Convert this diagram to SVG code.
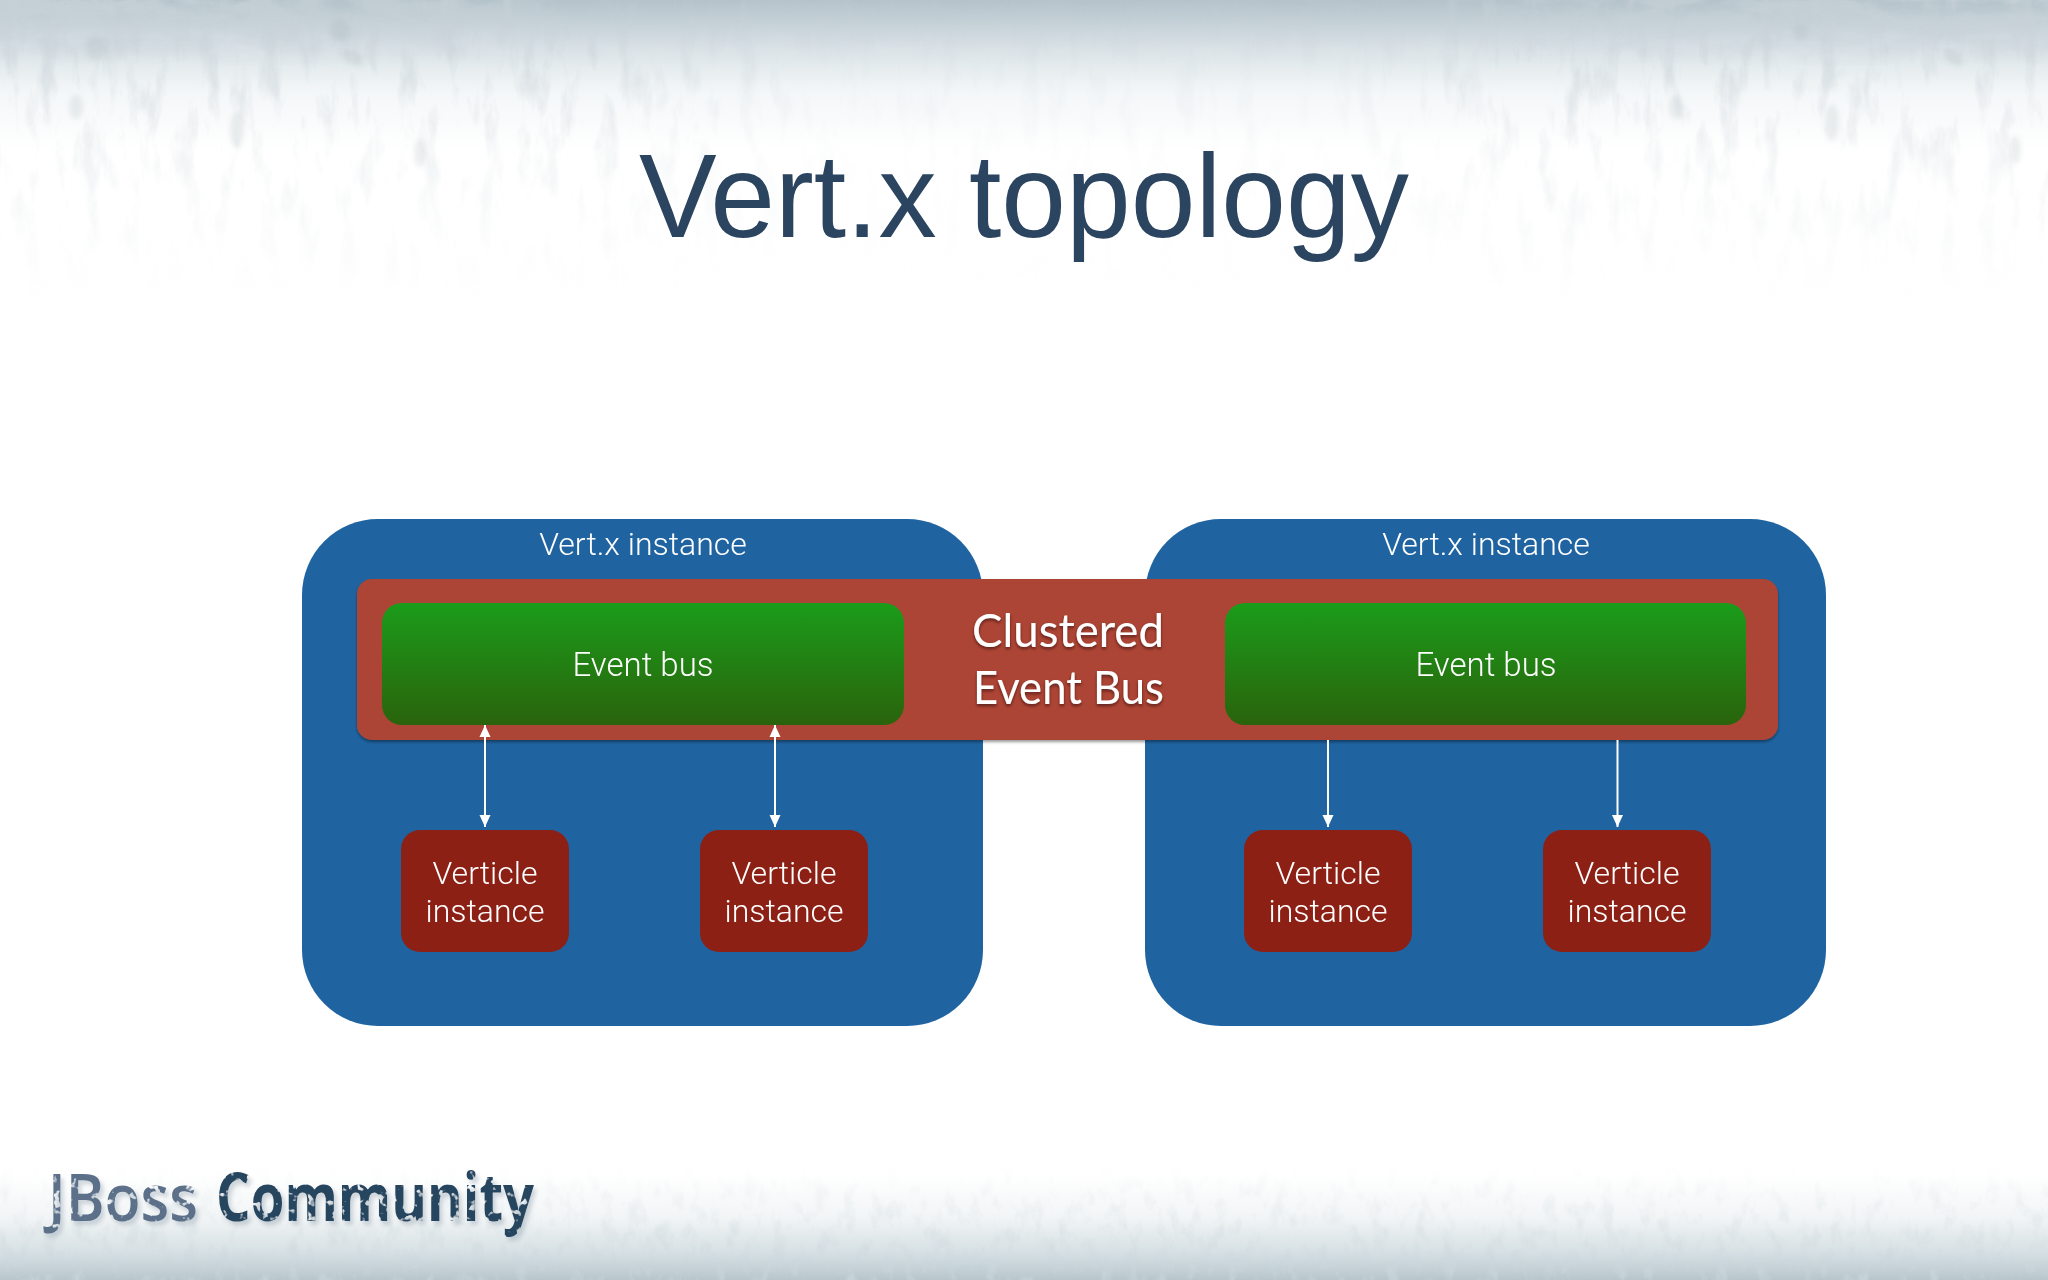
<svg xmlns="http://www.w3.org/2000/svg" width="2048" height="1280" viewBox="0 0 2048 1280">
<style>
.lbl{font-family:Roboto,"Liberation Sans",sans-serif;font-weight:300;font-size:32px;fill:#fff;text-anchor:middle}
.inst{fill:#1f64a1}
.band{fill:#ac4534;filter:url(#bandShadow)}
.bus{fill:url(#busGrad)}
.vert{fill:#8c2015}
.clu{font-family:Lato,"Open Sans",sans-serif;font-size:46px;fill:#fff;filter:url(#txtShadow)}
.conn{stroke:#fff;fill:none}
.logo{font-family:"Open Sans","Noto Sans",sans-serif;font-size:66px;filter:url(#distress)}
.blot{fill:#9fadb5;opacity:.2}
</style>
<defs>
<linearGradient id="busGrad" x1="0" y1="0" x2="0" y2="1"><stop offset="0" stop-color="#1b9c1a"/><stop offset="1" stop-color="#2a630c"/></linearGradient>
<linearGradient id="topGrad" x1="0" y1="0" x2="0" y2="1"><stop offset="0" stop-color="#b4c2ca"/><stop offset=".12" stop-color="#c2ced5"/><stop offset=".35" stop-color="#dde5e9"/><stop offset=".62" stop-color="#f4f7f8"/><stop offset="1" stop-color="#fff"/></linearGradient>
<linearGradient id="botGrad" x1="0" y1="0" x2="0" y2="1"><stop offset="0" stop-color="#fff"/><stop offset=".4" stop-color="#f2f5f6"/><stop offset=".75" stop-color="#d5dfe3"/><stop offset="1" stop-color="#b8c6cc"/></linearGradient>
<linearGradient id="hMask" x1="0" y1="0" x2="1" y2="0"><stop offset="0" stop-color="#fff"/><stop offset=".27" stop-color="#fff"/><stop offset=".4" stop-color="#444"/><stop offset=".66" stop-color="#444"/><stop offset=".76" stop-color="#fff"/><stop offset="1" stop-color="#fff"/></linearGradient>
<linearGradient id="vTop" x1="0" y1="0" x2="0" y2="1"><stop offset="0" stop-color="#fff"/><stop offset=".18" stop-color="#eee"/><stop offset=".5" stop-color="#777"/><stop offset="1" stop-color="#000"/></linearGradient>
<linearGradient id="vDark" x1="0" y1="0" x2="0" y2="1"><stop offset="0" stop-color="#fff"/><stop offset=".5" stop-color="#ccc"/><stop offset="1" stop-color="#000"/></linearGradient>
<linearGradient id="hDark" x1="0" y1="0" x2="1" y2="0"><stop offset="0" stop-color="#fff"/><stop offset=".2" stop-color="#bbb"/><stop offset=".3" stop-color="#222"/><stop offset=".7" stop-color="#222"/><stop offset=".8" stop-color="#bbb"/><stop offset="1" stop-color="#fff"/></linearGradient>
<linearGradient id="vBot" x1="0" y1="1" x2="0" y2="0"><stop offset="0" stop-color="#fff"/><stop offset=".35" stop-color="#888"/><stop offset="1" stop-color="#000"/></linearGradient>
<mask id="mH" maskUnits="userSpaceOnUse" x="0" y="0" width="2048" height="1280"><rect width="2048" height="1280" fill="url(#hMask)"/></mask>
<mask id="mTop" maskUnits="userSpaceOnUse" x="0" y="0" width="2048" height="1280"><rect width="2048" height="300" fill="url(#vTop)"/></mask>
<mask id="mDarkV" maskUnits="userSpaceOnUse" x="0" y="0" width="2048" height="1280"><rect width="2048" height="66" fill="url(#vDark)"/></mask>
<mask id="mDarkH" maskUnits="userSpaceOnUse" x="0" y="0" width="2048" height="1280"><rect width="2048" height="1280" fill="url(#hDark)"/></mask>
<mask id="mBot" maskUnits="userSpaceOnUse" x="0" y="0" width="2048" height="1280"><rect y="1165" width="2048" height="115" fill="url(#vBot)"/></mask>
<filter id="streaks" filterUnits="userSpaceOnUse" x="0" y="0" width="2048" height="300">
<feTurbulence type="fractalNoise" baseFrequency="0.05 0.016" numOctaves="5" seed="12"/>
<feColorMatrix type="matrix" values="0 0 0 0 .58  0 0 0 0 .64  0 0 0 0 .68  3.4 0 0 0 -1.72"/>
</filter>
<filter id="rough" filterUnits="userSpaceOnUse" x="0" y="0" width="2048" height="80">
<feTurbulence type="fractalNoise" baseFrequency="0.02 0.05" numOctaves="4" seed="5"/>
<feColorMatrix type="matrix" values="0 0 0 0 .58  0 0 0 0 .65  0 0 0 0 .69  3 0 0 0 -.85"/>
</filter>
<filter id="streaks2" filterUnits="userSpaceOnUse" x="0" y="1130" width="2048" height="150">
<feTurbulence type="fractalNoise" baseFrequency="0.07 0.04" numOctaves="4" seed="21"/>
<feColorMatrix type="matrix" values="0 0 0 0 .6  0 0 0 0 .68  0 0 0 0 .72  3.5 0 0 0 -1.75"/>
</filter>
<filter id="soft" x="-30%" y="-30%" width="160%" height="160%"><feGaussianBlur stdDeviation="2.5"/></filter>
<filter id="bandShadow" x="-2%" y="-10%" width="104%" height="125%"><feDropShadow dx="0" dy="2" stdDeviation="1.5" flood-color="#000" flood-opacity=".4"/></filter>
<filter id="txtShadow" x="-10%" y="-20%" width="120%" height="150%"><feDropShadow dx="0" dy="2" stdDeviation="1.5" flood-color="#3a1008" flood-opacity=".7"/></filter>
<filter id="distress" x="-3%" y="-20%" width="106%" height="150%">
<feTurbulence type="fractalNoise" baseFrequency="0.13" numOctaves="2" seed="4" result="n"/>
<feColorMatrix in="n" type="matrix" values="0 0 0 0 0  0 0 0 0 0  0 0 0 0 0  -9 0 0 0 6.4" result="holes"/>
<feComposite in="SourceGraphic" in2="holes" operator="in" result="t"/>
<feGaussianBlur in="SourceAlpha" stdDeviation="2"/><feOffset dx="3" dy="4"/><feColorMatrix type="matrix" values="0 0 0 0 .3  0 0 0 0 .38  0 0 0 0 .45  0 0 0 .45 0" result="s"/>
<feMerge><feMergeNode in="s"/><feMergeNode in="t"/></feMerge>
</filter>
<marker id="head" viewBox="0 0 12 12" refX="12" refY="6" markerWidth="12" markerHeight="12" markerUnits="userSpaceOnUse" orient="auto-start-reverse"><path d="M0 .5L12 6L0 11.5Z" fill="#fff"/></marker>
</defs>

<g id="background">
<rect width="2048" height="1280" fill="#fff"/>
<rect width="2048" height="150" fill="url(#topGrad)"/>
<rect y="1175" width="2048" height="105" fill="url(#botGrad)"/>
<g mask="url(#mDarkH)"><g mask="url(#mDarkV)"><rect width="2048" height="80" filter="url(#rough)" opacity=".85"/></g></g>
<g mask="url(#mH)"><g mask="url(#mTop)"><rect width="2048" height="300" filter="url(#streaks)" opacity=".55"/></g></g>
<g mask="url(#mBot)"><rect y="1130" width="2048" height="150" filter="url(#streaks2)" opacity=".7"/></g>
<g filter="url(#soft)">
<ellipse class="blot" cx="96" cy="48" rx="10" ry="13"/><ellipse class="blot" cx="353" cy="58" rx="12" ry="6" transform="rotate(35 353 58)"/><ellipse class="blot" cx="340" cy="30" rx="10" ry="12"/>
<ellipse class="blot" cx="76" cy="107" rx="7" ry="12"/><ellipse class="blot" cx="237" cy="130" rx="7" ry="18"/><ellipse class="blot" cx="420" cy="153" rx="6" ry="14"/>
<ellipse class="blot" cx="1801" cy="32" rx="8" ry="8"/><ellipse class="blot" cx="1953" cy="57" rx="12" ry="6" transform="rotate(40 1953 57)"/><ellipse class="blot" cx="1676" cy="107" rx="7" ry="12"/>
<ellipse class="blot" cx="1832" cy="123" rx="7" ry="18"/><ellipse class="blot" cx="2015" cy="150" rx="6" ry="14"/>
</g>
</g>

<text id="title" x="1024" y="237" text-anchor="middle" font-family="'Liberation Sans',Arial,sans-serif" font-size="118" fill="#2b4460" textLength="770" lengthAdjust="spacingAndGlyphs">Vert.x topology</text>

<g id="vertx-instance-left"><rect class="inst" x="302" y="519" width="681" height="507" rx="76"/><text class="lbl" x="643" y="555">Vert.x instance</text></g>
<g id="vertx-instance-right"><rect class="inst" x="1145" y="519" width="681" height="507" rx="76"/><text class="lbl" x="1486" y="555">Vert.x instance</text></g>

<g id="clustered-event-bus"><rect class="band" x="357" y="579" width="1421" height="161" rx="15"/>
<text class="clu" x="972" y="647" textLength="192" lengthAdjust="spacingAndGlyphs">Clustered</text><text class="clu" x="973" y="704" textLength="191" lengthAdjust="spacingAndGlyphs">Event Bus</text></g>

<g id="event-bus-left"><rect class="bus" x="382" y="603" width="522" height="122" rx="20"/><text class="lbl" x="643" y="676" font-size="33" style="font-size:33px">Event bus</text></g>
<g id="event-bus-right"><rect class="bus" x="1225" y="603" width="521" height="122" rx="20"/><text class="lbl" x="1486" y="676" style="font-size:33px">Event bus</text></g>

<g id="verticle-1"><rect class="vert" x="401" y="830" width="168" height="122" rx="19"/><text class="lbl" x="485" y="884">Verticle</text><text class="lbl" x="485" y="922">instance</text></g>
<g id="verticle-2"><rect class="vert" x="700" y="830" width="168" height="122" rx="19"/><text class="lbl" x="784" y="884">Verticle</text><text class="lbl" x="784" y="922">instance</text></g>
<g id="verticle-3"><rect class="vert" x="1244" y="830" width="168" height="122" rx="19"/><text class="lbl" x="1328" y="884">Verticle</text><text class="lbl" x="1328" y="922">instance</text></g>
<g id="verticle-4"><rect class="vert" x="1543" y="830" width="168" height="122" rx="19"/><text class="lbl" x="1627" y="884">Verticle</text><text class="lbl" x="1627" y="922">instance</text></g>

<g id="connectors">
<line class="conn" stroke-width="2" x1="485" y1="725" x2="485" y2="827" marker-start="url(#head)" marker-end="url(#head)"/>
<line class="conn" stroke-width="2" x1="775" y1="725" x2="775" y2="827" marker-start="url(#head)" marker-end="url(#head)"/>
<line class="conn" stroke-width="2" x1="1328" y1="740" x2="1328" y2="827" marker-end="url(#head)"/>
<line class="conn" stroke-width="2" x1="1617.5" y1="740" x2="1617.5" y2="827" marker-end="url(#head)"/>
</g>

<g id="logo"><text class="logo" x="48" y="1221" fill="#5b7189" font-weight="600" textLength="150" lengthAdjust="spacingAndGlyphs">JBoss</text><text class="logo" x="216" y="1221" fill="#27455f" font-weight="700" textLength="318" lengthAdjust="spacingAndGlyphs">Community</text></g>
</svg>
